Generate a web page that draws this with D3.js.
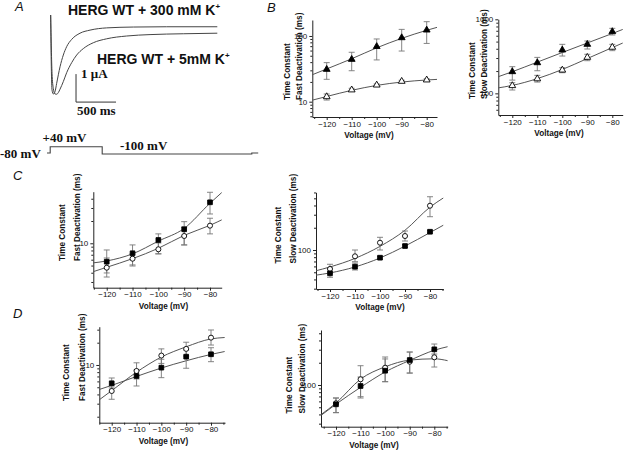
<!DOCTYPE html>
<html><head><meta charset="utf-8">
<script src="https://cdn.jsdelivr.net/npm/d3@7"></script>
<style>body{margin:0;background:#fff}svg{display:block}</style>
</head><body>
<svg id="fig" width="624" height="452"></svg>
<script>
// ---------- DATA ----------
const voltages = [-120, -110, -100, -90, -80];
const minorVoltages = [-125, -115, -105, -95, -85, -75];
const fitV = [-126, -120, -110, -100, -90, -80, -74.5];

// Panel A current traces (time in ms, current in µA)
const trace300T = [0, 8, 17, 33, 54, 75, 117, 158, 200, 263, 367, 492, 700, 1033, 1450, 2083];
const trace300I = [0, -1.85, -2.68, -2.82, -2.74, -2.44, -1.85, -1.43, -1.13, -0.87, -0.65, -0.54, -0.46, -0.43, -0.42, -0.42];
const trace5T = [0, 17, 33, 54, 75, 96, 117, 158, 200, 263, 325, 408, 533, 700, 950, 1242, 1658, 2083];
const trace5I = [0, -2.08, -2.62, -2.82, -2.83, -2.77, -2.65, -2.38, -2.06, -1.70, -1.43, -1.20, -0.99, -0.85, -0.75, -0.70, -0.67, -0.65];
const scaleBarT = [317, 817];     // 500 ms
const scaleBarI = [-3.11, -2.11]; // 1 µA
// Voltage protocol
const protoT = [0, 40, 40, 690, 690, 2560, 2560, 2640];
const protoV = [-80, -80, 40, 40, -100, -100, -80, -80];

// Panel B, fast deactivation (triangles)
const bFastFilledMean = [31, 44, 69, 94, 123];
const bFastFilledLo = [21.9, 29.6, 43.2, 59, 77];
const bFastFilledHi = [39.3, 56.5, 90, 126, 165];
const bFastOpenMean = [11.9, 15.1, 17.9, 20.4, 21.4];
const bFastOpenLo = [10.6, 14.3, 17.2, 19.6, 20.6];
const bFastOpenHi = [13.1, 16.0, 18.6, 21.2, 22.3];
const bFastFilledFit = [25.5, 31.5, 45, 66, 92, 122, 140];
const bFastOpenFit = [10.5, 12.0, 14.9, 17.7, 19.9, 21.4, 22.0];

// Panel B, slow deactivation
const bSlowFilledMean = [196, 259, 385, 459, 681];
const bSlowFilledLo = [151, 202, 319, 397, 614];
const bSlowFilledHi = [229, 306, 459, 509, 755];
const bSlowOpenMean = [127, 157, 206, 306, 419];
const bSlowOpenLo = [111, 142, 190, 276, 377];
const bSlowOpenHi = [139, 175, 222, 337, 459];
const bSlowFilledFit = [166, 196, 264, 356, 479, 643, 760];
const bSlowOpenFit = [118, 128, 158, 210, 295, 415, 500];

// Panel C, fast deactivation (squares / circles)
const cFastFilledMean = [5.64, 7.33, 11.08, 15.46, 35.8];
const cFastFilledLo = [3.97, 4.93, 7.2, 9.5, 24.9];
const cFastFilledHi = [8.12, 9.5, 13.4, 19.6, 48.9];
const cFastOpenMean = [4.68, 6.19, 8.3, 12.55, 17.3];
const cFastOpenLo = [3.5, 5.1, 7.2, 9.5, 13.4];
const cFastOpenHi = [6.33, 7.17, 10.1, 16.6, 21.8];
const cFastFilledFit = [5.4, 5.77, 7.2, 10.7, 15.9, 34.8, 52];
const cFastOpenFit = [4.05, 4.74, 6.2, 8.56, 12.8, 17.5, 21.5];

// Panel C, slow deactivation
const cSlowFilledMean = [48.4, 59.5, 78.7, 113.2, 176.6];
const cSlowFilledLo = [42.8, 53.7, 75, 108, 170];
const cSlowFilledHi = [57, 66.7, 82, 118, 183];
const cSlowOpenMean = [55.4, 82.2, 125.5, 154.6, 397];
const cSlowOpenLo = [48.4, 69.5, 100, 132.3, 282];
const cSlowOpenHi = [64.1, 100, 148.5, 180.7, 525];
const cSlowFilledFit = [45.5, 49, 59, 78, 113, 172, 218];
const cSlowOpenFit = [52, 59, 77, 112, 185, 380, 510];

// Panel D, fast deactivation
const dFastFilledMean = [5.66, 7.1, 9.2, 12.95, 13.95];
const dFastFilledLo = [4.89, 5.2, 6.74, 9.03, 11.08];
const dFastFilledHi = [6.67, 8.56, 11.94, 15.95, 17.1];
const dFastOpenMean = [4.45, 8.3, 13.4, 16.5, 23.4];
const dFastOpenLo = [3.44, 6.47, 10.5, 13.2, 18.6];
const dFastOpenHi = [5.2, 10.7, 16.5, 20.3, 29.7];
const dFastFilledFit = [4.55, 5.3, 7.0, 9.1, 11.4, 13.9, 15.2];
const dFastOpenFit = [3.2, 4.5, 8.0, 12.8, 17.6, 22.5, 23.5];

// Panel D, slow deactivation
const dSlowFilledMean = [54.8, 96.9, 156, 217.7, 303.6];
const dSlowFilledLo = [42.3, 66.7, 110.8, 145, 262];
const dSlowFilledHi = [66.7, 128.3, 225, 279, 358];
const dSlowOpenMean = [56.6, 119.4, 171.3, 206.5, 236.8];
const dSlowOpenLo = [42.3, 69.5, 110.8, 145, 175];
const dSlowOpenHi = [66.7, 182.3, 239, 279, 297];
const dSlowFilledFit = [39, 55, 93, 150, 215, 295, 330];
const dSlowOpenFit = [40, 57, 120, 176, 217, 226, 213];

// ---------- LAYOUT ----------
const SANS = "'Liberation Sans', Arial, Helvetica, sans-serif";
const SERIF = "'Liberation Serif', 'Times New Roman', serif";
const svg = d3.select('#fig');

const panels = [
  { x0: 312.3, x1: 437, xDom: [-125.76, -75.88], yt: 20, yb: 117, yDom: [5.85, 175], yMajor: [10, 100],
    lab: [289.7, 302], labBottom: 100, line2: 'Fast Deactivation (ms)', vx: 369,
    series: [
      { m: bFastFilledMean, lo: bFastFilledLo, hi: bFastFilledHi, fit: bFastFilledFit, sym: 'tri', filled: true },
      { m: bFastOpenMean, lo: bFastOpenLo, hi: bFastOpenHi, fit: bFastOpenFit, sym: 'tri', filled: false } ] },
  { x0: 498.3, x1: 622.7, xDom: [-125.6, -75.84], yt: 19.3, yb: 115, yDom: [51, 1000], yMajor: [100, 1000],
    lab: [474.7, 487], labBottom: 99, line2: 'Slow Deactivation (ms)', vx: 559,
    series: [
      { m: bSlowFilledMean, lo: bSlowFilledLo, hi: bSlowFilledHi, fit: bSlowFilledFit, sym: 'tri', filled: true },
      { m: bSlowOpenMean, lo: bSlowOpenLo, hi: bSlowOpenHi, fit: bSlowOpenFit, sym: 'tri', filled: false } ] },
  { x0: 93.3, x1: 221.7, xDom: [-125.2, -75.47], yt: 191.7, yb: 287.7, yDom: [2.51, 49.8], yMajor: [10],
    lab: [65, 79.5], labBottom: 261, line2: 'Fast Deactivation (ms)', vx: 163.5,
    series: [
      { m: cFastOpenMean, lo: cFastOpenLo, hi: cFastOpenHi, fit: cFastOpenFit, sym: 'circle', filled: false },
      { m: cFastFilledMean, lo: cFastFilledLo, hi: cFastFilledHi, fit: cFastFilledFit, sym: 'square', filled: true } ] },
  { x0: 316, x1: 443.3, xDom: [-125.6, -74.68], yt: 192.3, yb: 289, yDom: [29.7, 603], yMajor: [100],
    lab: [281.3, 296.3], labBottom: 263.5, line2: 'Slow Deactivation (ms)', vx: 380,
    series: [
      { m: cSlowOpenMean, lo: cSlowOpenLo, hi: cSlowOpenHi, fit: cSlowOpenFit, sym: 'circle', filled: false },
      { m: cSlowFilledMean, lo: cSlowFilledLo, hi: cSlowFilledHi, fit: cSlowFilledFit, sym: 'square', filled: true } ] },
  { x0: 99.3, x1: 225, xDom: [-125.0, -74.36], yt: 326.7, yb: 422.7, yDom: [1.66, 32.9], yMajor: [10],
    lab: [69, 84.5], labBottom: 401, line2: 'Fast Deactivation (ms)', vx: 163.5,
    series: [
      { m: dFastOpenMean, lo: dFastOpenLo, hi: dFastOpenHi, fit: dFastOpenFit, sym: 'circle', filled: false },
      { m: dFastFilledMean, lo: dFastFilledLo, hi: dFastFilledHi, fit: dFastFilledFit, sym: 'square', filled: true } ] },
  { x0: 321, x1: 447.7, xDom: [-126.1, -74.55], yt: 330, yb: 426.7, yDom: [27.3, 554], yMajor: [100],
    lab: [292, 305], labBottom: 413.5, line2: 'Slow Deactivation (ms)', vx: 374,
    series: [
      { m: dSlowOpenMean, lo: dSlowOpenLo, hi: dSlowOpenHi, fit: dSlowOpenFit, sym: 'circle', filled: false },
      { m: dSlowFilledMean, lo: dSlowFilledLo, hi: dSlowFilledHi, fit: dSlowFilledFit, sym: 'square', filled: true } ] }
];

function logMinor(dom) {
  const t = [];
  for (let e = -1; e < 5; e++) for (let k = 2; k <= 9; k++) {
    const v = k * Math.pow(10, e);
    if (v >= dom[0] && v <= dom[1]) t.push(v);
  }
  return t;
}

const symMap = { tri: d3.symbolTriangle, square: d3.symbolSquare, circle: d3.symbolCircle };
const symSize = { tri: 20, square: 22, circle: 20 };

panels.forEach((p, pi) => {
  const g = svg.append('g');
  const x = d3.scaleLinear().domain(p.xDom).range([p.x0, p.x1]);
  const y = d3.scaleLog().domain(p.yDom).range([p.yb, p.yt]);

  // clip for fits
  const cid = 'clip' + pi;
  svg.append('clipPath').attr('id', cid).append('rect')
    .attr('x', p.x0).attr('y', p.yt - 10).attr('width', p.x1 - p.x0).attr('height', p.yb - p.yt + 10);

  // axes
  const xa = g.append('g').attr('transform', `translate(0,${p.yb})`)
    .call(d3.axisBottom(x).tickValues(voltages).tickSize(3).tickSizeOuter(0).tickPadding(1).tickFormat(d3.format('d')));
  const xm = g.append('g').attr('transform', `translate(0,${p.yb})`)
    .call(d3.axisBottom(x).tickValues(minorVoltages.filter(v => v >= p.xDom[0] && v <= p.xDom[1])).tickSize(2).tickFormat(''));
  xm.select('.domain').remove();
  const ya = g.append('g').attr('transform', `translate(${p.x0},0)`)
    .call(d3.axisLeft(y).tickValues(p.yMajor).tickSize(3).tickSizeOuter(0).tickPadding(2).tickFormat(d3.format('d')));
  const ym = g.append('g').attr('transform', `translate(${p.x0},0)`)
    .call(d3.axisLeft(y).tickValues(logMinor(p.yDom)).tickSize(2).tickFormat(''));
  ym.select('.domain').remove();
  [xa, xm, ya, ym].forEach(a => {
    a.attr('font-family', SANS).attr('font-size', 8);
    a.selectAll('line').attr('stroke', '#222');
    a.selectAll('.domain').attr('stroke', '#222').attr('stroke-width', 1);
    a.selectAll('text').attr('fill', '#111');
  });

  // axis titles
  g.append('text').attr('x', p.vx).attr('y', p.yb + 21).attr('text-anchor', 'middle')
    .attr('font-family', SANS).attr('font-weight', 'bold').attr('font-size', 8.2).attr('fill', '#111')
    .text('Voltage (mV)');
  [['Time Constant', p.lab[0]], [p.line2, p.lab[1]]].forEach(([t, lx]) => {
    g.append('text').attr('transform', `translate(${lx},${p.labBottom}) rotate(-90)`)
      .attr('text-anchor', 'start').attr('font-family', SANS).attr('font-weight', 'bold')
      .attr('font-size', 8.2).attr('fill', '#111').text(t);
  });

  // fits
  const line = d3.line().x((d, i) => x(fitV[i])).y(d => y(d)).curve(d3.curveMonotoneX);
  p.series.forEach(s => {
    g.append('path').attr('d', line(s.fit)).attr('fill', 'none')
      .attr('stroke', '#555').attr('stroke-width', 1).attr('clip-path', `url(#${cid})`);
  });
  // error bars
  p.series.forEach(s => {
    voltages.forEach((v, i) => {
      const cx = x(v), y1 = y(s.hi[i]), y2 = y(s.lo[i]);
      const eb = g.append('g').attr('stroke', '#777').attr('stroke-width', 0.9);
      eb.append('line').attr('x1', cx).attr('x2', cx).attr('y1', y1).attr('y2', y2);
      eb.append('line').attr('x1', cx - 3).attr('x2', cx + 3).attr('y1', y1).attr('y2', y1);
      eb.append('line').attr('x1', cx - 3).attr('x2', cx + 3).attr('y1', y2).attr('y2', y2);
    });
  });
  // markers
  p.series.forEach(s => {
    const sym = d3.symbol().type(symMap[s.sym]).size(symSize[s.sym]);
    g.selectAll(null).data(s.m).enter().append('path')
      .attr('d', sym)
      .attr('transform', (d, i) => `translate(${x(voltages[i])},${y(d)})`)
      .attr('fill', s.filled ? '#000' : '#fff')
      .attr('stroke', '#000').attr('stroke-width', 0.9);
  });
});

// ---------- PANEL A ----------
const tx = d3.scaleLinear().domain([0, 1000]).range([50.67, 130.67]);
const iy = d3.scaleLinear().domain([0, -1]).range([15, 43]);
const tline = d3.line().curve(d3.curveMonotoneX);
const gA = svg.append('g');
[[trace300T, trace300I], [trace5T, trace5I]].forEach(([T, I]) => {
  gA.append('path').attr('d', tline(T.map((t, i) => [tx(t), iy(I[i])])))
    .attr('fill', 'none').attr('stroke', '#444').attr('stroke-width', 1);
});
// scale bar
gA.append('path')
  .attr('d', d3.line()([[tx(scaleBarT[0]), iy(scaleBarI[1])], [tx(scaleBarT[0]), iy(scaleBarI[0])], [tx(scaleBarT[1]), iy(scaleBarI[0])]]))
  .attr('fill', 'none').attr('stroke', '#333').attr('stroke-width', 1);
gA.append('text').attr('x', tx(scaleBarT[0]) + 5).attr('y', iy(scaleBarI[1]) + 3.5)
  .attr('font-family', SERIF).attr('font-weight', 'bold').attr('font-size', 13).attr('fill', '#111').text('1 \u03bcA');
gA.append('text').attr('x', tx(scaleBarT[0]) + 1).attr('y', iy(scaleBarI[0]) + 13)
  .attr('font-family', SERIF).attr('font-weight', 'bold').attr('font-size', 13).attr('fill', '#111').text('500 ms');

// protocol
const px = d3.scaleLinear().domain([0, 1000]).range([47, 127]);
const pv = d3.scaleLinear().domain([-100, 40]).range([154, 146.7]);
gA.append('path').attr('d', d3.line()(protoT.map((t, i) => [px(t), pv(protoV[i])])))
  .attr('fill', 'none').attr('stroke', '#444').attr('stroke-width', 1.1);
const protoLabels = [['-80 mV', 0, 157.5], ['+40 mV', 42.5, 141.5], ['-100 mV', 120, 149.5]];
protoLabels.forEach(([t, lx, ly]) => {
  gA.append('text').attr('x', lx).attr('y', ly).attr('font-family', SERIF).attr('font-weight', 'bold')
    .attr('font-size', 13).attr('fill', '#111').text(t);
});

// titles
function herg(xp, yp, txt) {
  const t = gA.append('text').attr('x', xp).attr('y', yp).attr('font-family', SANS)
    .attr('font-weight', 'bold').attr('font-size', 14).attr('fill', '#111');
  t.append('tspan').text(txt);
  t.append('tspan').attr('font-size', 8).attr('dy', -6).text('+');
}
herg(68, 15, 'HERG WT + 300 mM K');
herg(97, 63.5, 'HERG WT + 5mM K');

// panel letters
[['A', 15, 11], ['B', 267, 12], ['C', 13, 180], ['D', 13, 318]].forEach(([t, lx, ly]) => {
  svg.append('text').attr('x', lx).attr('y', ly).attr('font-family', SANS).attr('font-style', 'italic')
    .attr('font-size', 13).attr('fill', '#111').text(t);
});
</script>
</body></html>
